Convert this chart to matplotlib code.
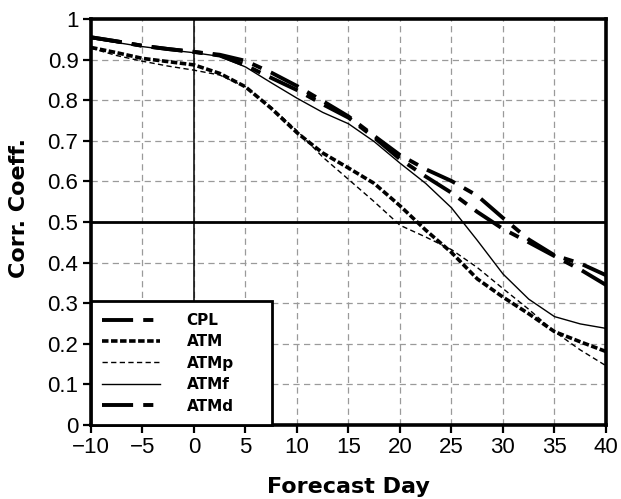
import matplotlib
matplotlib.use("Agg")
import matplotlib.pyplot as plt

# ──────────────────────────────────────────
# DATA
# ──────────────────────────────────────────
days = [-10, -7.5, -5, -2.5, 0, 2.5, 5, 7.5, 10, 12.5, 15, 17.5, 20,
        22.5, 25, 27.5, 30, 32.5, 35, 37.5, 40]

cpl = [0.955, 0.945, 0.934, 0.926, 0.919, 0.912, 0.897, 0.868, 0.835, 0.798,
       0.760, 0.712, 0.665, 0.630, 0.601, 0.565, 0.510, 0.457, 0.418, 0.398, 0.369]
atm = [0.930, 0.917, 0.903, 0.895, 0.887, 0.866, 0.833, 0.780, 0.720, 0.670,
       0.633, 0.595, 0.540, 0.480, 0.425, 0.360, 0.315, 0.274, 0.230, 0.205, 0.181]
atmp = [0.928, 0.910, 0.896, 0.884, 0.874, 0.862, 0.833, 0.783, 0.725, 0.660,
        0.605, 0.550, 0.492, 0.463, 0.432, 0.388, 0.336, 0.285, 0.230, 0.185, 0.146]
atmf = [0.952, 0.942, 0.932, 0.924, 0.917, 0.908, 0.882, 0.843, 0.805, 0.770,
        0.742, 0.698, 0.645, 0.595, 0.535, 0.455, 0.372, 0.310, 0.267, 0.249, 0.238]
atmd = [0.955, 0.945, 0.934, 0.926, 0.919, 0.910, 0.886, 0.855, 0.825, 0.790,
        0.757, 0.708, 0.655, 0.612, 0.572, 0.525, 0.483, 0.450, 0.416, 0.383, 0.345]

xticks = [-10, -5, 0, 5, 10, 15, 20, 25, 30, 35, 40]
yticks = [0, 0.1, 0.2, 0.3, 0.4, 0.5, 0.6, 0.7, 0.8, 0.9, 1]
yticklabels = ["0", "0.1", "0.2", "0.3", "0.4", "0.5", "0.6", "0.7", "0.8", "0.9", "1"]

# ──────────────────────────────────────────
# PLOT
# ──────────────────────────────────────────
fig = plt.figure(figsize=(6.21, 4.99), dpi=100)
ax = fig.add_axes([0.1465, 0.1483, 0.8293, 0.8136])

ax.set_xlim(-10, 40)
ax.set_ylim(0, 1)

# grid + reference lines
for x in xticks[1:-1]:
    ax.axvline(x, color="#9a9a9a", lw=0.9, dashes=(5, 3.5), zorder=1)
for y in yticks[1:-1]:
    ax.axhline(y, color="#9a9a9a", lw=0.9, dashes=(5, 3.5), zorder=1)
ax.axvline(0, color="black", lw=1.1, zorder=2)
ax.axhline(0.5, color="black", lw=2.0, zorder=2)

ax.plot(days, cpl, color="black", lw=2.8, dashes=(8, 2.6, 2.6, 2.6), label="CPL", zorder=3)
ax.plot(days, atm, color="black", lw=2.6, dashes=(1.8, 0.7), label="ATM", zorder=3)
ax.plot(days, atmp, color="black", lw=1.0, dashes=(3.8, 2.4), label="ATMp", zorder=3)
ax.plot(days, atmf, color="black", lw=1.0, label="ATMf", zorder=3)
ax.plot(days, atmd, color="black", lw=2.8, dashes=(8, 2.6, 2.6, 2.6), label="ATMd", zorder=3)

ax.set_xticks(xticks)
ax.set_xticklabels([str(x).replace("-", "\u2212") for x in xticks])
ax.set_yticks(yticks)
ax.set_yticklabels(yticklabels)
ax.tick_params(direction="out", length=6, width=1.6, labelsize=16, pad=3,
               top=False, right=False)
for lab in ax.get_xticklabels() + ax.get_yticklabels():
    lab.set_fontfamily("Liberation Sans")
for sp in ax.spines.values():
    sp.set_linewidth(2.6)

ax.set_xlabel("Forecast Day", fontsize=16, fontweight="bold")
ax.set_ylabel("Corr. Coeff.", fontsize=16, fontweight="bold")
ax.xaxis.set_label_coords(0.5, -0.128)
ax.yaxis.set_label_coords(-0.12, 0.535)

# legend box stretched to the reference width, text stays left
leg = ax.legend(loc="lower left", bbox_to_anchor=(0, 0, 0.351, 0.31),
                mode="expand", borderaxespad=0,
                fancybox=False, edgecolor="black", framealpha=1,
                prop={"size": 11, "weight": "bold"}, handlelength=3.8,
                handletextpad=1.7, labelspacing=0.42, borderpad=0.75)
leg.get_frame().set_linewidth(2.0)
leg.set_zorder(5)

plt.savefig("out.png", dpi=100)
